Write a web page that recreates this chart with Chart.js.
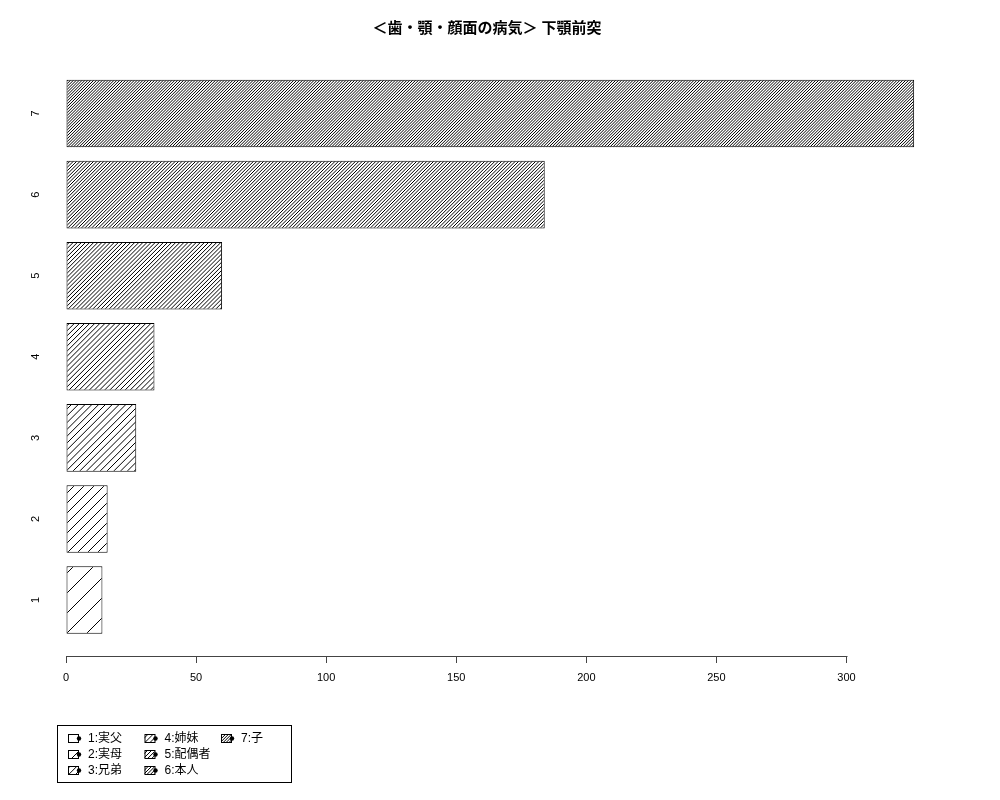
<!DOCTYPE html>
<html>
<head>
<meta charset="utf-8">
<script src="https://cdn.jsdelivr.net/npm/chart.js@4"></script>
<style>
  html, body { margin: 0; padding: 0; background: #fff; }
</style>
</head>
<body>
<canvas id="chart" width="1000" height="800"></canvas>
<script>
// data
const categories = [1, 2, 3, 4, 5, 6, 7];
const tickLabels = ["1", "2", "3", "4", "5", "6", "7"];
const values = [14, 16, 27, 34, 60, 184, 326];
const xTicks = [0, 50, 100, 150, 200, 250, 300];
const legendLabels = ["1:実父", "2:実母", "3:兄弟", "4:姉妹", "5:配偶者", "6:本人", "7:子"];
const chartTitle = "＜歯・顎・顔面の病気＞ 下顎前突";

// hatch density (lines per inch), like R's density=
const hatchDensity = [5, 10, 15, 20, 25, 30, 35];

const FONT = "'Liberation Sans', 'Noto Sans CJK JP', sans-serif";

/* hatch pattern, 45 degree lines */
function makeHatch(density) {
  const spacing = (72 / density) * Math.SQRT2;
  const n = spacing > 9 ? 1 : 10;
  const size = Math.round(spacing * n);
  const step = size / n;
  const c = document.createElement("canvas");
  c.width = size;
  c.height = size;
  const g = c.getContext("2d");
  g.fillStyle = "#fff";
  g.fillRect(0, 0, size, size);
  g.strokeStyle = "#000";
  g.lineWidth = 1;
  g.beginPath();
  for (let k = -1; k <= 2 * n + 1; k++) {
    const s = k * step;
    g.moveTo(s, 0);
    g.lineTo(s - size, size);
  }
  g.stroke();
  return g.createPattern(c, "repeat");
}

const ctx = document.getElementById("chart").getContext("2d");
const patterns = hatchDensity.map(makeHatch);

// R style axis line, rotated y labels, legend box
const rStylePlugin = {
  id: "rStyle",
  afterDraw(chart) {
    const g = chart.ctx;
    const xs = chart.scales.x;
    const ys = chart.scales.y;
    const area = chart.chartArea;
    g.save();

    // x axis line from first to last tick
    const first = xs.getPixelForValue(xTicks[0]);
    const last = xs.getPixelForValue(xTicks[xTicks.length - 1]);
    const yLine = Math.round(area.bottom) + 0.5;
    g.strokeStyle = "#444";
    g.lineWidth = 1;
    g.beginPath();
    g.moveTo(Math.round(first) + 0.5, yLine);
    g.lineTo(Math.round(last) + 0.5, yLine);
    g.stroke();

    // y labels, rotated
    g.fillStyle = "#000";
    g.font = "11px " + FONT;
    g.textAlign = "center";
    g.textBaseline = "middle";
    categories.forEach((c, i) => {
      g.save();
      g.translate(36, ys.getPixelForValue(c));
      g.rotate(-Math.PI / 2);
      g.fillText(tickLabels[i], 0, 0);
      g.restore();
    });

    // legend
    const box = { x: 57.5, y: 725.5, w: 234, h: 57 };
    g.strokeStyle = "#000";
    g.strokeRect(box.x, box.y, box.w, box.h);
    g.font = "12px " + FONT;
    g.textAlign = "left";
    legendLabels.forEach((label, i) => {
      const col = Math.floor(i / 3);
      const row = i % 3;
      const sx = 68 + col * 76.5;
      const cy = 738 + row * 16;
      g.fillStyle = patterns[i];
      g.fillRect(sx, cy - 4, 10, 8);
      g.strokeStyle = "#000";
      g.strokeRect(sx + 0.5, cy - 3.5, 10, 8);
      g.fillStyle = "#000";
      g.beginPath();
      g.arc(sx + 11, cy + 0.5, 2.2, 0, Math.PI * 2);
      g.fill();
      g.fillText(label, sx + 20, cy + 1);
    });

    g.restore();
  },
};

new Chart(ctx, {
  type: "bar",
  data: {
    datasets: [
      {
        data: categories.map((c, i) => ({ x: values[i], y: c })),
        backgroundColor: patterns,
        borderColor: "#000",
        borderWidth: 1,
        borderSkipped: false,
        categoryPercentage: 1,
        barPercentage: 1 / 1.2,
      },
    ],
  },
  options: {
    indexAxis: "y",
    responsive: false,
    animation: false,
    layout: { padding: { left: 0, right: 26, top: 0, bottom: 0 } },
    plugins: {
      legend: { display: false },
      tooltip: { enabled: false },
      title: {
        display: true,
        text: chartTitle,
        color: "#000",
        font: { family: FONT, size: 15, weight: "bold", lineHeight: 1.2 },
        padding: { top: 20, bottom: 35 },
      },
    },
    scales: {
      x: {
        type: "linear",
        min: 0,
        max: 349,
        afterFit: (s) => { s.height = 144; },
        afterBuildTicks: (s) => { s.ticks = xTicks.map((v) => ({ value: v })); },
        ticks: {
          color: "#000",
          font: { family: FONT, size: 11 },
          padding: 8,
          maxRotation: 0,
          autoSkip: false,
        },
        grid: { drawOnChartArea: false, drawTicks: true, tickLength: 7, color: "#444" },
        border: { display: false },
      },
      y: {
        type: "linear",
        min: 0.31,
        max: 7.5,
        offset: false,
        afterFit: (s) => { s.width = 66; },
        afterBuildTicks: (s) => { s.ticks = categories.map((v) => ({ value: v })); },
        ticks: { display: false },
        grid: { display: false },
        border: { display: false },
      },
    },
  },
  plugins: [rStylePlugin],
});
</script>
</body>
</html>
